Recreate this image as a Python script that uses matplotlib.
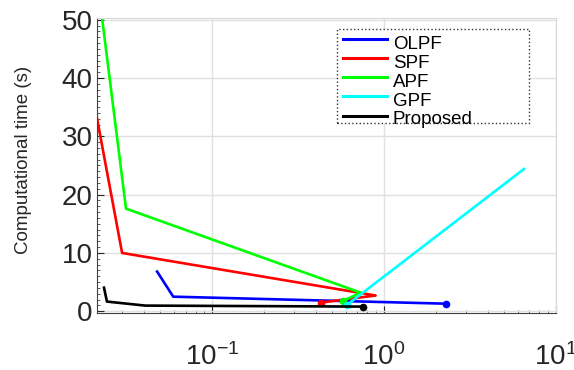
import matplotlib
matplotlib.use("Agg")
import matplotlib.pyplot as plt
from matplotlib.lines import Line2D
from matplotlib.patches import Rectangle
from matplotlib.ticker import LogLocator, MultipleLocator, NullFormatter

plt.rcParams["font.family"] = ["Liberation Sans", "DejaVu Sans"]
plt.rcParams["mathtext.fontset"] = "custom"
plt.rcParams["mathtext.rm"] = "Liberation Sans"
plt.rcParams["mathtext.it"] = "Liberation Sans"

# values (x: log scale, y: seconds)
olpf_x = [0.0478, 0.0593, 2.28]
olpf_y = [6.8, 2.5, 1.3]
spf_x = [0.02136, 0.0299, 0.892, 0.432]
spf_y = [33.1, 10.0, 2.7, 1.5]
apf_x = [0.02136, 0.0315, 0.729, 0.573]
apf_y = [57.2, 17.6, 3.2, 1.7]
gpf_x = [6.51, 0.612]
gpf_y = [24.4, 1.15]
prop_x = [0.02346, 0.0244, 0.0407, 0.749]
prop_y = [4.05, 1.66, 0.97, 0.80]

labels = ["OLPF", "SPF", "APF", "GPF", "Proposed"]
colors = ["#0000ff", "#ff0000", "#00ff00", "#00ffff", "#000000"]
series = [(olpf_x, olpf_y), (spf_x, spf_y), (apf_x, apf_y),
          (gpf_x, gpf_y), (prop_x, prop_y)]

W, H = 574, 370
fig = plt.figure(figsize=(W / 100, H / 100), dpi=100)
ax = fig.add_axes([97 / W, 1 - 313 / H, (556 - 97) / W, (313 - 18) / H])

for (xs, ys), c, lab in zip(series, colors, labels):
    ax.plot(xs, ys, color=c, linewidth=1.9, marker="o", markersize=4.5,
            markevery=[len(xs) - 1], label=lab)

ax.set_xscale("log")
ax.set_xlim(0.02136, 10.0)
ax.set_ylim(-0.3, 50.3)
ax.set_yticks([0, 10, 20, 30, 40, 50])
ax.yaxis.set_minor_locator(MultipleLocator(1))
ax.xaxis.set_major_locator(LogLocator(base=10, numticks=10))
ax.xaxis.set_minor_locator(LogLocator(base=10, subs=[2, 3, 4, 5, 6, 7, 8, 9], numticks=20))
ax.xaxis.set_minor_formatter(NullFormatter())

ax.grid(True, which="major", color="#e0e0e0", linewidth=1.0)
ax.set_axisbelow(True)
ax.tick_params(axis="both", which="major", direction="in", length=5,
               labelsize=20, colors="#262626")
ax.tick_params(axis="y", which="major", pad=3)
ax.tick_params(axis="x", which="major", pad=22)
ax.tick_params(axis="both", which="minor", direction="in", length=2.5, color="#404040")
for side in ("left", "bottom"):
    ax.spines[side].set_color("#404040")
for side in ("top", "right"):
    ax.spines[side].set_color("#d9d9d9")

fig.text(24 / W, 1 - 160 / H, "Computational time (s)", rotation=90,
         ha="center", va="center", fontsize=13.5, color="#262626")

# legend drawn by hand: dotted box, short line samples, labels overflowing a bit
fig.patches.append(Rectangle((337 / W, 1 - 123 / H), (529 - 337) / W, (123 - 29) / H,
                             transform=fig.transFigure, facecolor="white",
                             edgecolor="#333333", linestyle=":", linewidth=1.0,
                             zorder=3))
for i, (c, lab) in enumerate(zip(colors, labels)):
    ly = 38.5 + 19.3 * i
    fig.lines.append(Line2D([343 / W, 387 / W], [1 - ly / H, 1 - ly / H],
                            transform=fig.transFigure, color=c, linewidth=2.2,
                            zorder=4))
    fig.text(393 / W, 1 - (49.3 + 18.8 * i) / H, lab, fontsize=13.5,
             ha="left", va="baseline", color="#000000", zorder=5)

fig.savefig("out.png", dpi=100)
